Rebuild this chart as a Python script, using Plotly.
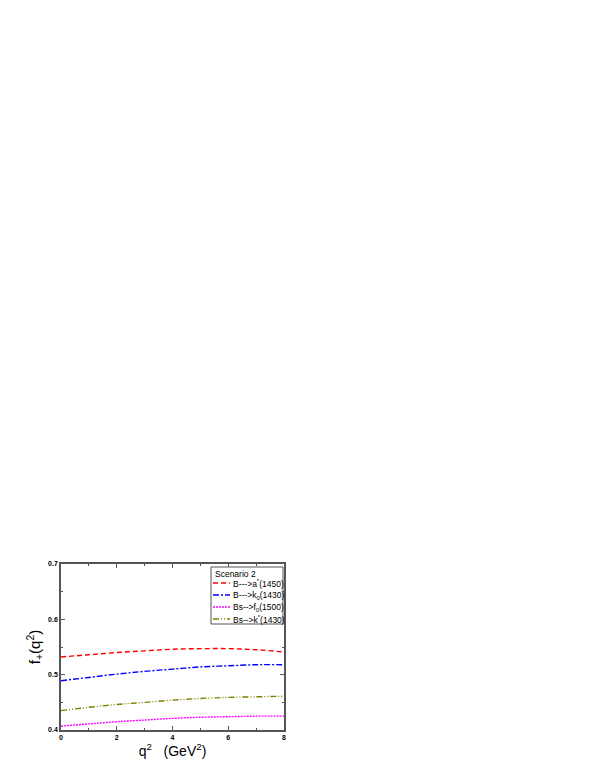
import plotly.graph_objects as go

# q^2 grid (GeV^2)
q2 = [0, 1, 2, 3, 4, 5, 6, 7, 8]

# form factors f+(q^2)
f_b_a0 = [0.532, 0.536, 0.540, 0.543, 0.546, 0.547, 0.547, 0.545, 0.541]
f_b_k0 = [0.489, 0.495, 0.501, 0.506, 0.510, 0.514, 0.516, 0.518, 0.518]
f_bs_f0 = [0.407, 0.411, 0.415, 0.418, 0.421, 0.423, 0.424, 0.425, 0.425]
f_bs_k = [0.435, 0.441, 0.446, 0.450, 0.454, 0.457, 0.459, 0.460, 0.461]

series_names = [
    "B--->a<sup>*</sup>(1450)",
    "B--->k<sub>0</sub>(1430)",
    "Bs-->f<sub>0</sub>(1500)",
    "Bs-->k<sup>*</sup>(1430)",
]
legend_title = "Scenario 2"

FONT = "Liberation Sans, Arial, sans-serif"
W, H = 595, 770
# plot frame in pixels
X0, X1, Y0, Y1 = 53, 276, 556, 722

styles = [
    dict(color="#ff0000", dash="5px,3px"),
    dict(color="#0000ff", dash="6px,2px,2px,2px"),
    dict(color="#ff00ff", dash="2px,1px"),
    dict(color="#808000", dash="6px,2px,1px,2px,1px,2px"),
]


def px_x(px):
    return (px - X0) / (X1 - X0)


def px_y(py):
    return (Y1 - py) / (Y1 - Y0)


fig = go.Figure()
for name, ys, st in zip(series_names, [f_b_a0, f_b_k0, f_bs_f0, f_bs_k], styles):
    fig.add_trace(go.Scatter(
        x=q2, y=ys, mode="lines", name=name, showlegend=False,
        line=dict(color=st["color"], dash=st["dash"], width=1.4, shape="spline"),
    ))

# legend box drawn by hand (Origin-style compact legend)
fig.add_shape(type="rect", xref="paper", yref="paper",
              x0=px_x(203), x1=px_x(275), y0=px_y(616), y1=px_y(559),
              line=dict(color="#555555", width=1), fillcolor="white", layer="above")
fig.add_annotation(xref="paper", yref="paper", x=px_x(205), y=px_y(566),
                   text=legend_title, showarrow=False, xanchor="left", yanchor="middle",
                   font=dict(family=FONT, size=8.5, color="black"))
row_y = [575, 587, 599, 611]
for name, st, ry in zip(series_names, styles, row_y):
    fig.add_shape(type="line", xref="paper", yref="paper",
                  x0=px_x(205), x1=px_x(222), y0=px_y(ry), y1=px_y(ry),
                  line=dict(color=st["color"], dash=st["dash"], width=1.4), layer="above")
    fig.add_annotation(xref="paper", yref="paper", x=px_x(223), y=px_y(ry),
                       text=name, showarrow=False, xanchor="left", yanchor="middle",
                       font=dict(family=FONT, size=8.5, color="black"))

axis_common = dict(
    showline=True, linecolor="#555555", linewidth=1.5, mirror="ticks",
    ticks="inside", ticklen=4, tickcolor="#555555", tickwidth=1,
    showgrid=False, zeroline=False,
    tickfont=dict(family=FONT, size=7, color="black", weight="bold"),
)

fig.update_xaxes(
    range=[0, 8], dtick=2, tick0=0,
    minor=dict(ticks="inside", dtick=1, ticklen=2, tickcolor="#555555"),
    title=dict(text="q<sup>2</sup>   (GeV<sup>2</sup>)",
               font=dict(family=FONT, size=14, color="black"), standoff=4),
    **axis_common,
)
fig.update_yaxes(
    range=[0.4, 0.7], dtick=0.1, tick0=0.4,
    minor=dict(ticks="inside", dtick=0.05, ticklen=2, tickcolor="#555555"),
    title=dict(text="f<sub>+</sub>(q<sup>2</sup>)",
               font=dict(family=FONT, size=15, color="black"), standoff=4),
    **axis_common,
)

fig.update_layout(
    width=W, height=H,
    paper_bgcolor="white", plot_bgcolor="white",
    margin=dict(l=X0, r=W - X1, t=Y0, b=H - Y1, pad=0),
    font=dict(family=FONT, color="black"),
    showlegend=False,
)

fig.write_html("out.html")
